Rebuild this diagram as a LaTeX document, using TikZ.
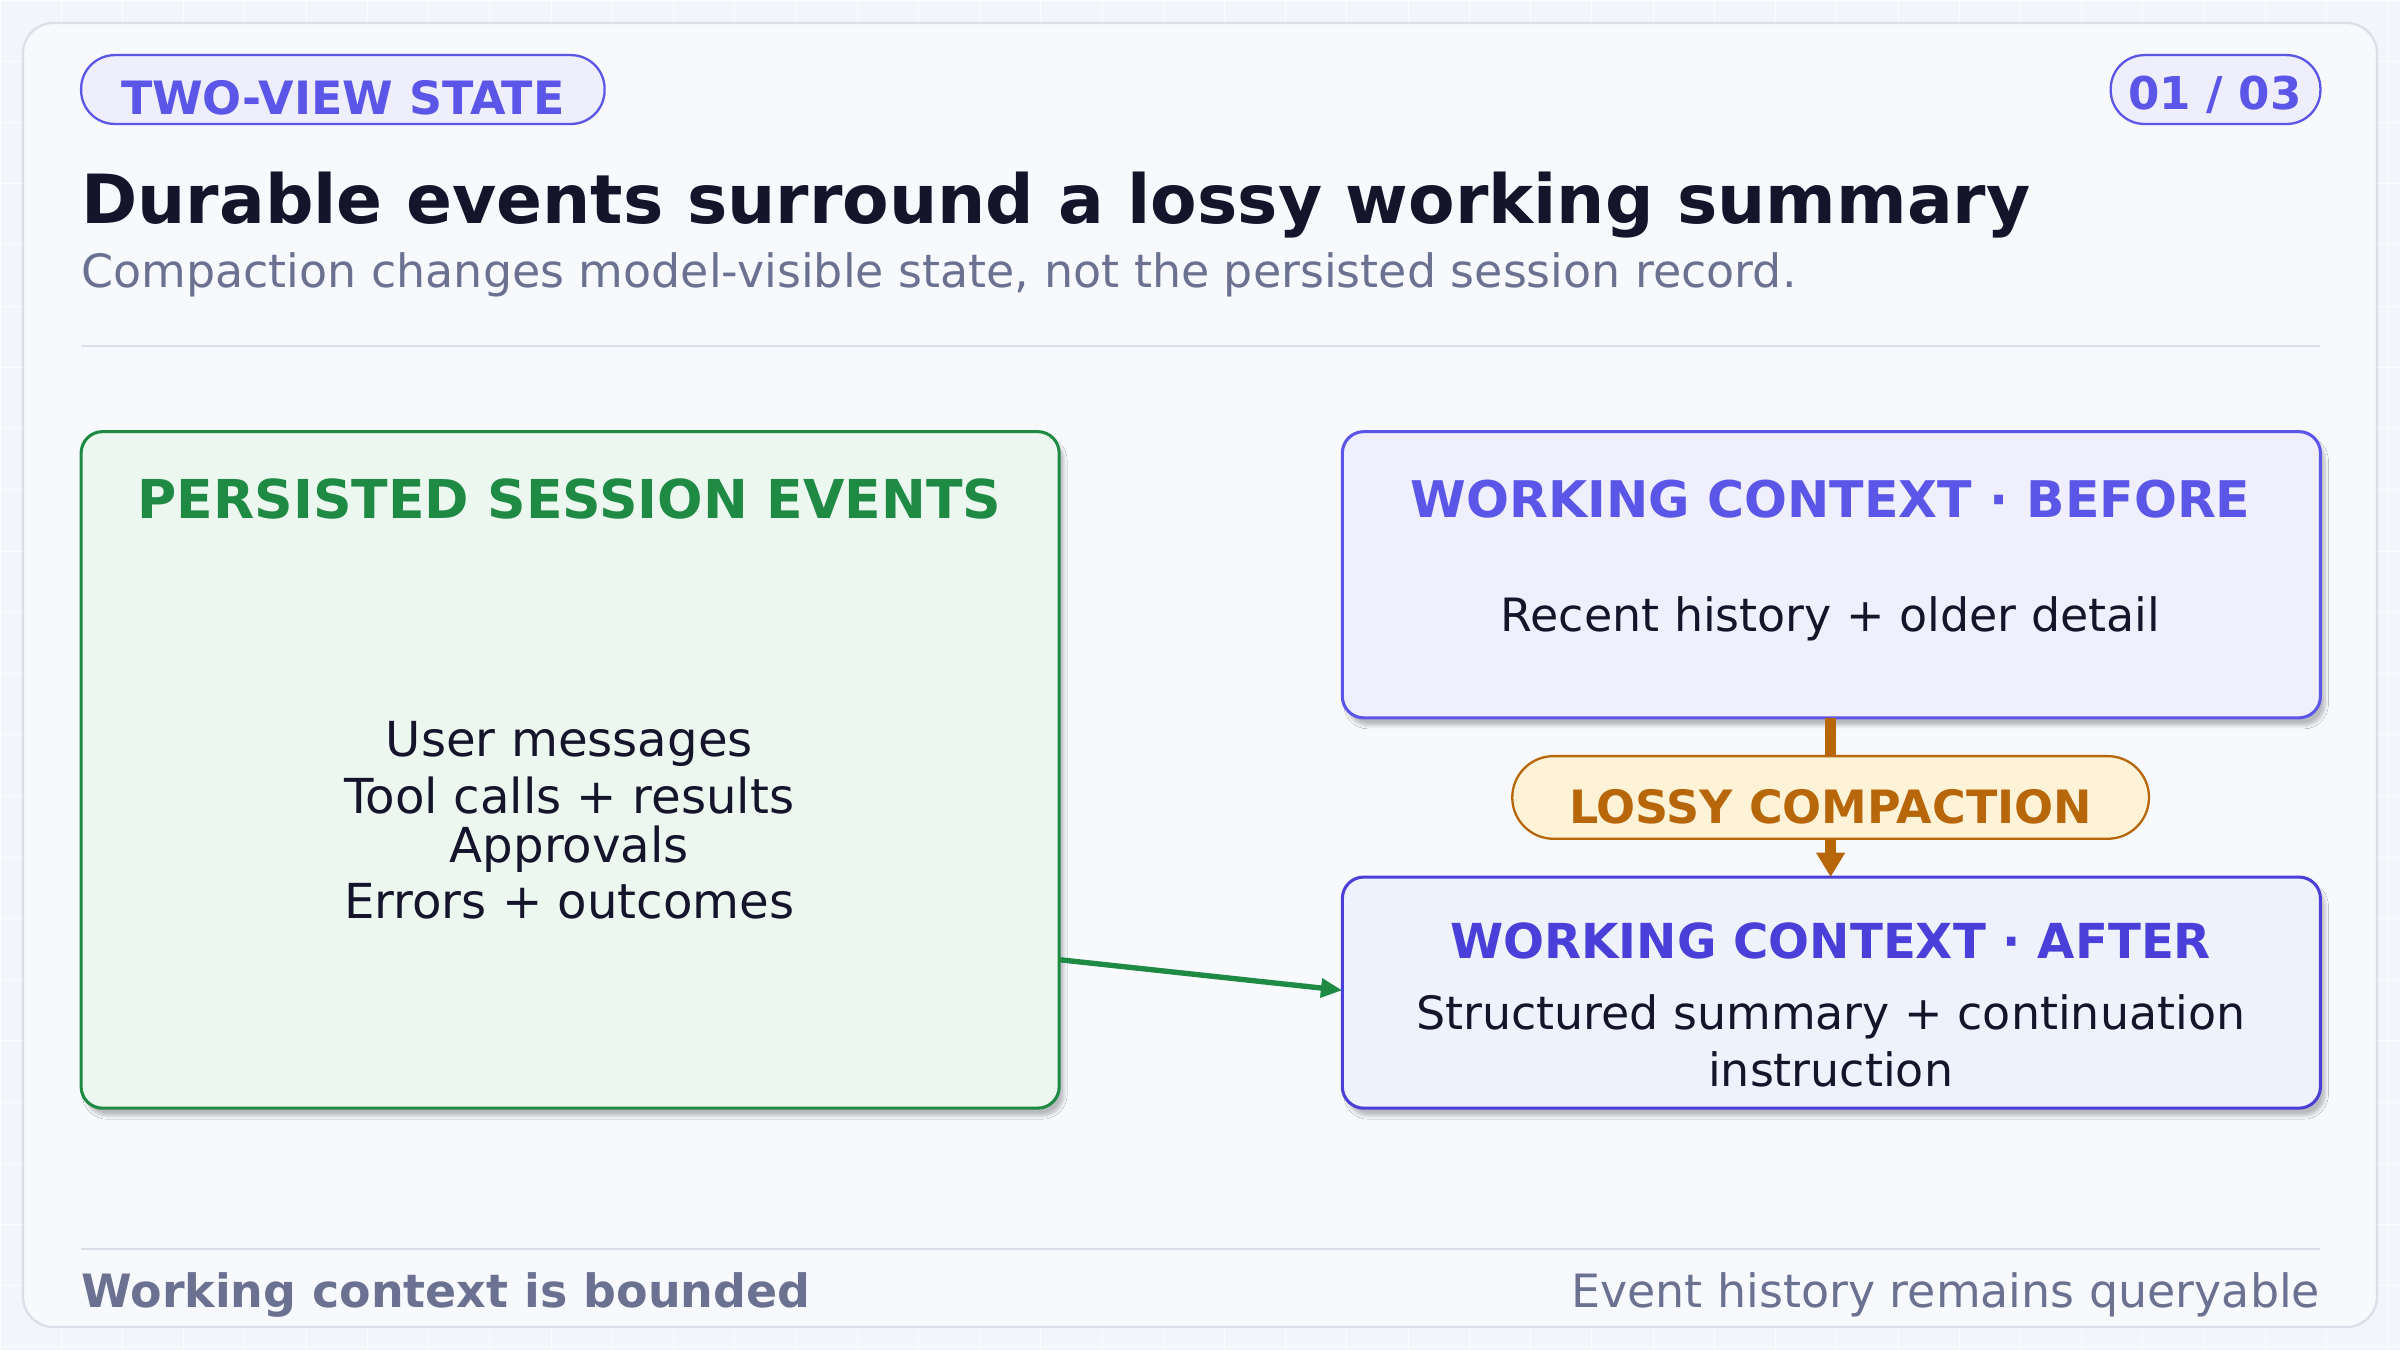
\documentclass[tikz,border=0pt]{standalone}
\usepackage{fontspec}
\setmainfont{DejaVu Sans}
\usetikzlibrary{arrows.meta,shadows.blur}
\definecolor{bg}{HTML}{F4F5FA}
\definecolor{card}{HTML}{F8F9FD}
\definecolor{cardln}{HTML}{DCDEE8}
\definecolor{indigo}{HTML}{5B55E8}
\definecolor{indigoD}{HTML}{4A3FD8}
\definecolor{pillbg}{HTML}{EEEEFD}
\definecolor{ink}{HTML}{14142B}
\definecolor{muted}{HTML}{6B7190}
\definecolor{grn}{HTML}{1E8A44}
\definecolor{grnbg}{HTML}{EBF7EF}
\definecolor{befbg}{HTML}{EFEFFD}
\definecolor{aftbg}{HTML}{EEF2FD}
\definecolor{org}{HTML}{B8660A}
\definecolor{orgbg}{HTML}{FEF3D6}
\tikzset{
 pill/.style={draw=indigo,fill=pillbg,line width=1.5pt,rounded corners=22pt},
 box/.style={line width=2pt,rounded corners=14pt,blur shadow={shadow blur steps=6,shadow xshift=3pt,shadow yshift=-5pt,shadow opacity=25}},
 body/.style={font=\fontsize{30}{37}\selectfont,text=ink,align=center},
}
\begin{document}
\begin{tikzpicture}[x=1pt,y=-1pt]
\useasboundingbox (0,0) rectangle (1568,882);
\fill[bg] (0,0) rectangle (1568,882);
\draw[white!90!cardln,line width=0.6pt] \foreach \i in {0,40,...,1568}{(\i,0)--(\i,882)} \foreach \j in {0,40,...,882}{(0,\j)--(1568,\j)};
\draw[cardln,fill=card,line width=1.5pt,rounded corners=20pt] (15,15) rectangle (1553,867);
\draw[pill] (53,36) rectangle (395,81);
\node[text=indigo,font=\fontsize{30}{30}\selectfont\bfseries] (tag) at (224,64) {TWO-VIEW STATE};
\draw[pill] (1379,36) rectangle (1516,81);
\node[text=indigo,font=\fontsize{29.5}{30}\selectfont\bfseries] (pg) at (1447,62) {01 / 03};
\node[anchor=base west,inner sep=0,text=ink,font=\fontsize{44.3}{46}\selectfont\bfseries] (title) at (53,146) {Durable events surround a lossy working summary};
\node[anchor=base west,inner sep=0,text=muted,font=\fontsize{30}{30}\selectfont] (sub) at (53,188) {Compaction changes model-visible state, not the persisted session record.};
\draw[cardln,line width=1.2pt] (53,226) -- (1516,226);
% boxes
\draw[box,draw=grn,fill=grnbg] (53,282) rectangle (692,724);
\node[text=grn,font=\fontsize{35}{36}\selectfont\bfseries] (gt) at (372,326) {PERSISTED SESSION EVENTS};
\node[body,font=\fontsize{31.5}{37}\selectfont] (gb) at (372,536) {User messages\\Tool calls + results\\[-5pt]Approvals\\Errors + outcomes};
\coordinate (gR) at (692,627);
\draw[box,draw=indigo,fill=befbg] (877,282) rectangle (1516,469);
\node[text=indigo,font=\fontsize{33}{36}\selectfont\bfseries] (bt) at (1196,326) {WORKING CONTEXT · BEFORE};
\node[body] (bb) at (1196,404) {Recent history + older detail};
\draw[box,draw=indigoD,fill=aftbg] (877,573) rectangle (1516,724);
\node[text=indigoD,font=\fontsize{31.5}{36}\selectfont\bfseries] (at) at (1196,615) {WORKING CONTEXT · AFTER};
\node[body] (ab) at (1196,680) {Structured summary + continuation\\instruction};
\coordinate (bB) at (1196,469);
\coordinate (aT) at (1196,573);
\coordinate (aL) at (877,647);
\draw[org,line width=7pt,-{Triangle[length=16pt,width=18pt]}] (bB) -- (aT);
\draw[org,fill=orgbg,line width=1.5pt,rounded corners=27pt] (988,494) rectangle (1404,548);
\node[text=org,font=\fontsize{30}{30}\selectfont\bfseries] (lc) at (1196,527) {LOSSY COMPACTION};
\draw[grn,line width=3.5pt,-{Triangle[length=14pt,width=12pt]}] (gR) -- (aL);
% footer
\draw[cardln,line width=1.2pt] (53,816) -- (1516,816);
\node[anchor=base west,inner sep=0,text=muted,font=\fontsize{30}{30}\selectfont\bfseries] (fl) at (53,854) {Working context is bounded};
\node[anchor=base east,inner sep=0,text=muted,font=\fontsize{30}{30}\selectfont] (fr) at (1516,854) {Event history remains queryable};
\end{tikzpicture}
\end{document}
